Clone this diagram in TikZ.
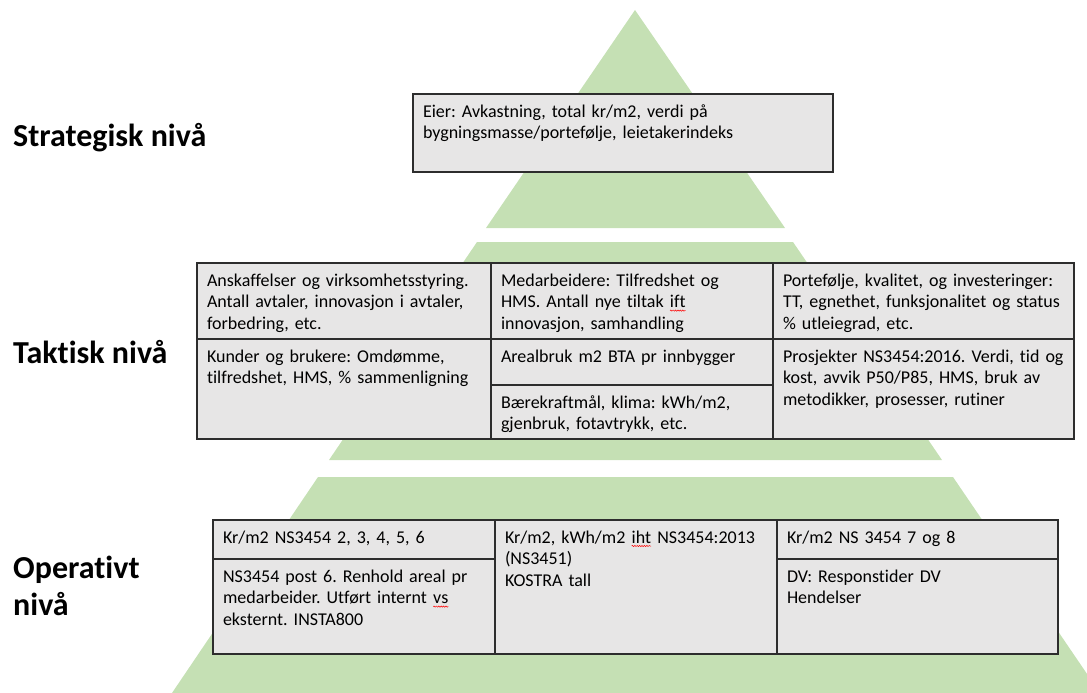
\documentclass[tikz,border=0pt]{standalone}
\usepackage{fontspec}
\setmainfont{Carlito}[Ligatures = NoCommon]
\usepackage{tikz}
\usetikzlibrary{shapes, positioning, decorations.pathmorphing}
\definecolor{pyrgreen}{RGB}{197,224,180}
\definecolor{cellgray}{RGB}{231,230,230}
\definecolor{cellline}{RGB}{45,45,45}
\frenchspacing
\newcommand\spellmark[1]{\tikz[baseline = (w.base)]{\node (w) [draw = none, fill = none, inner sep = 0pt, outer sep = 0pt, text width =, text height =, text depth =, anchor = base] {#1};
\draw [red, line width = 0.5pt, decorate, decoration = {snake, amplitude = 0.6pt, segment length = 2.4pt}] ([yshift = -3pt]w.base west) -- ([yshift = -3pt]w.base east);}}
\tikzstyle{level} = [anchor = base west, inner sep = 0pt, font = \fontsize{32}{37}\selectfont\bfseries]
\tikzstyle{cell} = [draw = cellline, line width = 1.2pt, fill = cellgray, anchor = north west,
outer sep = 0pt, inner xsep = 10pt, inner ysep = 11pt, text height = 12pt, align = left,
font = \fontsize{18}{21.6}\selectfont]
\tikzstyle{layer} = [fill = pyrgreen]

\begin{document}
\begin{tikzpicture} [x = 1pt, y = -1pt]
\useasboundingbox (0,0) rectangle (1087,693);
\clip (0,0) rectangle (1087,693);

\fill [layer] (635,10) -- (785,228) -- (486,228) -- cycle;
\fill [layer] (477,242) -- (793,242) -- (942,460) -- (329,460) -- cycle;
\fill [layer] (318,477) -- (953,477) -- (1100,693) -- (172,693) -- cycle;

\node (strategisk) [level] at (13,146) {Strategisk nivå};
\node (taktisk) [level] at (13,363) {Taktisk nivå};
\node (operativt) [level, align = left] at (13,615) {Operativt\\nivå};

\node (eier) [cell, text width = 400pt, text depth = 44pt] at (413,94) {Eier: Avkastning, total kr/m2, verdi på\\bygningsmasse/portefølje, leietakerindeks};

\node (anskaffelser) [cell, text width = 274pt, text depth = 42pt] at (197,263) {Anskaffelser og virksomhetsstyring.\\Antall avtaler, innovasjon i avtaler,\\forbedring, etc.};
\node (medarbeidere) [cell, text width = 262pt, text depth = 42pt] at (491,263) {Medarbeidere: Tilfredshet og\\HMS. Antall nye tiltak \spellmark{ift}\\innovasjon, samhandling};
\node (portefolje) [cell, text width = 281pt, text depth = 42pt] at (773,263) {Portefølje, kvalitet, og investeringer:\\TT, egnethet, funksjonalitet og status\\\% utleiegrad, etc.};
\node (kunder) [cell, text width = 274pt, text depth = 66pt] at (197,339) {Kunder og brukere: Omdømme,\\tilfredshet, HMS, \% sammenligning};
\node (arealbruk) [cell, text width = 262pt, text depth = 12pt] at (491,339) {Arealbruk m2 BTA pr innbygger};
\node (baerekraft) [cell, text width = 262pt, text depth = 20pt] at (491,385) {Bærekraftmål, klima: kWh/m2,\\gjenbruk, fotavtrykk, etc.};
\node (prosjekter) [cell, text width = 281pt, text depth = 66pt] at (773,339) {Prosjekter NS3454:2016. Verdi, tid og\\kost, avvik P50/P85, HMS, bruk av\\metodikker, prosesser, rutiner};

\node (krm2) [cell, text width = 262pt, text depth = 5pt] at (213,520) {Kr/m2 NS3454 2, 3, 4, 5, 6};
\node (renhold) [cell, text width = 262pt, text depth = 61pt] at (213,559) {NS3454 post 6. Renhold areal pr\\medarbeider. Utført internt \spellmark{vs}\\eksternt. INSTA800};
\node (kwh) [cell, text width = 262pt, text depth = 100pt] at (495,520) {Kr/m2, kWh/m2 \spellmark{iht} NS3454:2013\\(NS3451)\\KOSTRA tall};
\node (krm2dv) [cell, text width = 261pt, text depth = 5pt] at (777,520) {Kr/m2 NS 3454 7 og 8};
\node (dv) [cell, text width = 261pt, text depth = 61pt] at (777,559) {DV: Responstider DV\\Hendelser};
\end{tikzpicture}
\end{document}
